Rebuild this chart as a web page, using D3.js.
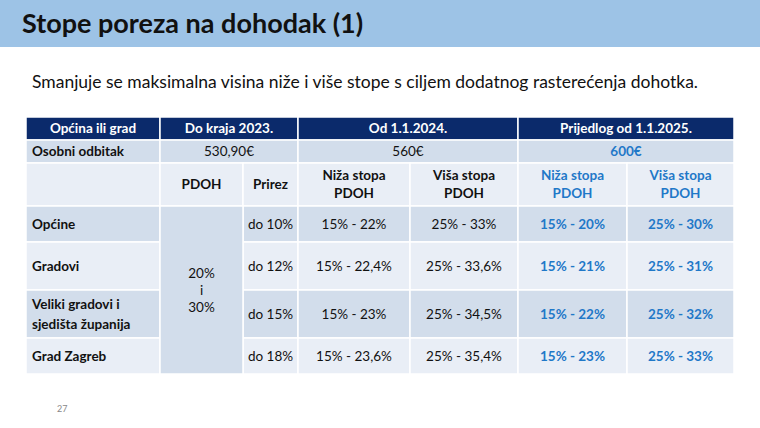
<!DOCTYPE html>
<html>
<head>
<meta charset="utf-8">
<script src="https://cdn.jsdelivr.net/npm/d3@7"></script>
<style>
  body { margin: 0; background: #fff; }
  text { font-family: Lato, "Liberation Sans", sans-serif; }
</style>
</head>
<body>
<svg id="chart" width="760" height="428"></svg>
<script>
// slide text
var title = 'Stope poreza na dohodak (1)';
var subtitle = 'Smanjuje se maksimalna visina niže i više stope s ciljem dodatnog rasterećenja dohotka.';

// header groups
var headGroups = ['Općina ili grad', 'Do kraja 2023.', 'Od 1.1.2024.', 'Prijedlog od 1.1.2025.'];
var deduction = ['Osobni odbitak', '530,90€', '560€', '600€'];
var subHeads = ['', 'PDOH', 'Prirez', 'Niža stopa\nPDOH', 'Viša stopa\nPDOH', 'Niža stopa\nPDOH', 'Viša stopa\nPDOH'];

// body rows
var places = ['Općine', 'Gradovi', 'Veliki gradovi i\nsjedišta županija', 'Grad Zagreb'];
var pdoh2023 = '20%\ni\n30%';
var prirez = ['do 10%', 'do 12%', 'do 15%', 'do 18%'];
var low2024 = ['15% - 22%', '15% - 22,4%', '15% - 23%', '15% - 23,6%'];
var high2024 = ['25% - 33%', '25% - 33,6%', '25% - 34,5%', '25% - 35,4%'];
var low2025 = ['15% - 20%', '15% - 21%', '15% - 22%', '15% - 23%'];
var high2025 = ['25% - 30%', '25% - 31%', '25% - 32%', '25% - 33%'];

var svg = d3.select('#chart');
var navy = '#0b2a6b', dark = '#d2ddeb', light = '#e9eef6', blue = '#1f78c8';

svg.append('rect').attr('width', 760).attr('height', 47).attr('fill', '#9dc3e6');
svg.append('text').attr('x', 22).attr('y', 33).attr('font-size', 27).attr('font-weight', 'bold')
  .attr('fill', '#111').text(title);
svg.append('text').attr('x', 32).attr('y', 88).attr('font-size', 17.5).attr('fill', '#111').text(subtitle);
svg.append('text').attr('x', 57).attr('y', 412).attr('font-size', 9).attr('fill', '#888').text('27');

// column edges and row edges
var colX = [26, 160, 243, 298, 410, 518, 627, 734];
var rowY = [117, 140, 163, 206, 242, 290, 338, 374];

var g = svg.append('g');

function cell(c0, c1, r0, r1, fill, txt, opts) {
  opts = opts || {};
  var x0 = colX[c0], x1 = colX[c1], y0 = rowY[r0], y1 = rowY[r1];
  g.append('rect').attr('x', x0).attr('y', y0).attr('width', x1 - x0).attr('height', y1 - y0)
    .attr('fill', fill).attr('stroke', '#fff').attr('stroke-width', 1.5);
  if (!txt) return;
  var lines = txt.split('\n');
  var lh = opts.lh || 18, fs = opts.fs || 13.5;
  var t = g.append('text')
    .attr('font-size', fs)
    .attr('font-weight', opts.bold ? 'bold' : 'normal')
    .attr('fill', opts.color || '#111')
    .attr('text-anchor', opts.left ? 'start' : 'middle');
  var cx = opts.left ? x0 + 6 : (x0 + x1) / 2;
  var cy = (y0 + y1) / 2 - (lines.length - 1) * lh / 2 + fs * 0.35;
  lines.forEach(function(l, i) {
    t.append('tspan').attr('x', cx).attr('y', cy + i * lh).text(l);
  });
}

// header
var headSpans = [[0, 1], [1, 3], [3, 5], [5, 7]];
headGroups.forEach(function(h, i) {
  cell(headSpans[i][0], headSpans[i][1], 0, 1, navy, h, { bold: true, color: '#fff' });
});
// personal deduction row
deduction.forEach(function(d, i) {
  cell(headSpans[i][0], headSpans[i][1], 1, 2, dark, d,
    { bold: i === 0 || i === 3, left: i === 0, color: i === 3 ? blue : '#111' });
});
// sub header
subHeads.forEach(function(s, i) {
  cell(i, i + 1, 2, 3, light, s, { bold: true, color: i >= 5 ? blue : '#111' });
});
// body
places.forEach(function(p, r) {
  var fill = r % 2 === 0 ? dark : light;
  var ri = r + 3;
  cell(0, 1, ri, ri + 1, fill, p, { bold: true, left: true, lh: 20 });
  cell(2, 3, ri, ri + 1, fill, prirez[r]);
  cell(3, 4, ri, ri + 1, fill, low2024[r]);
  cell(4, 5, ri, ri + 1, fill, high2024[r]);
  cell(5, 6, ri, ri + 1, fill, low2025[r], { bold: true, color: blue });
  cell(6, 7, ri, ri + 1, fill, high2025[r], { bold: true, color: blue });
});
cell(1, 2, 3, 7, dark, pdoh2023, { lh: 17 });
</script>
</body>
</html>
